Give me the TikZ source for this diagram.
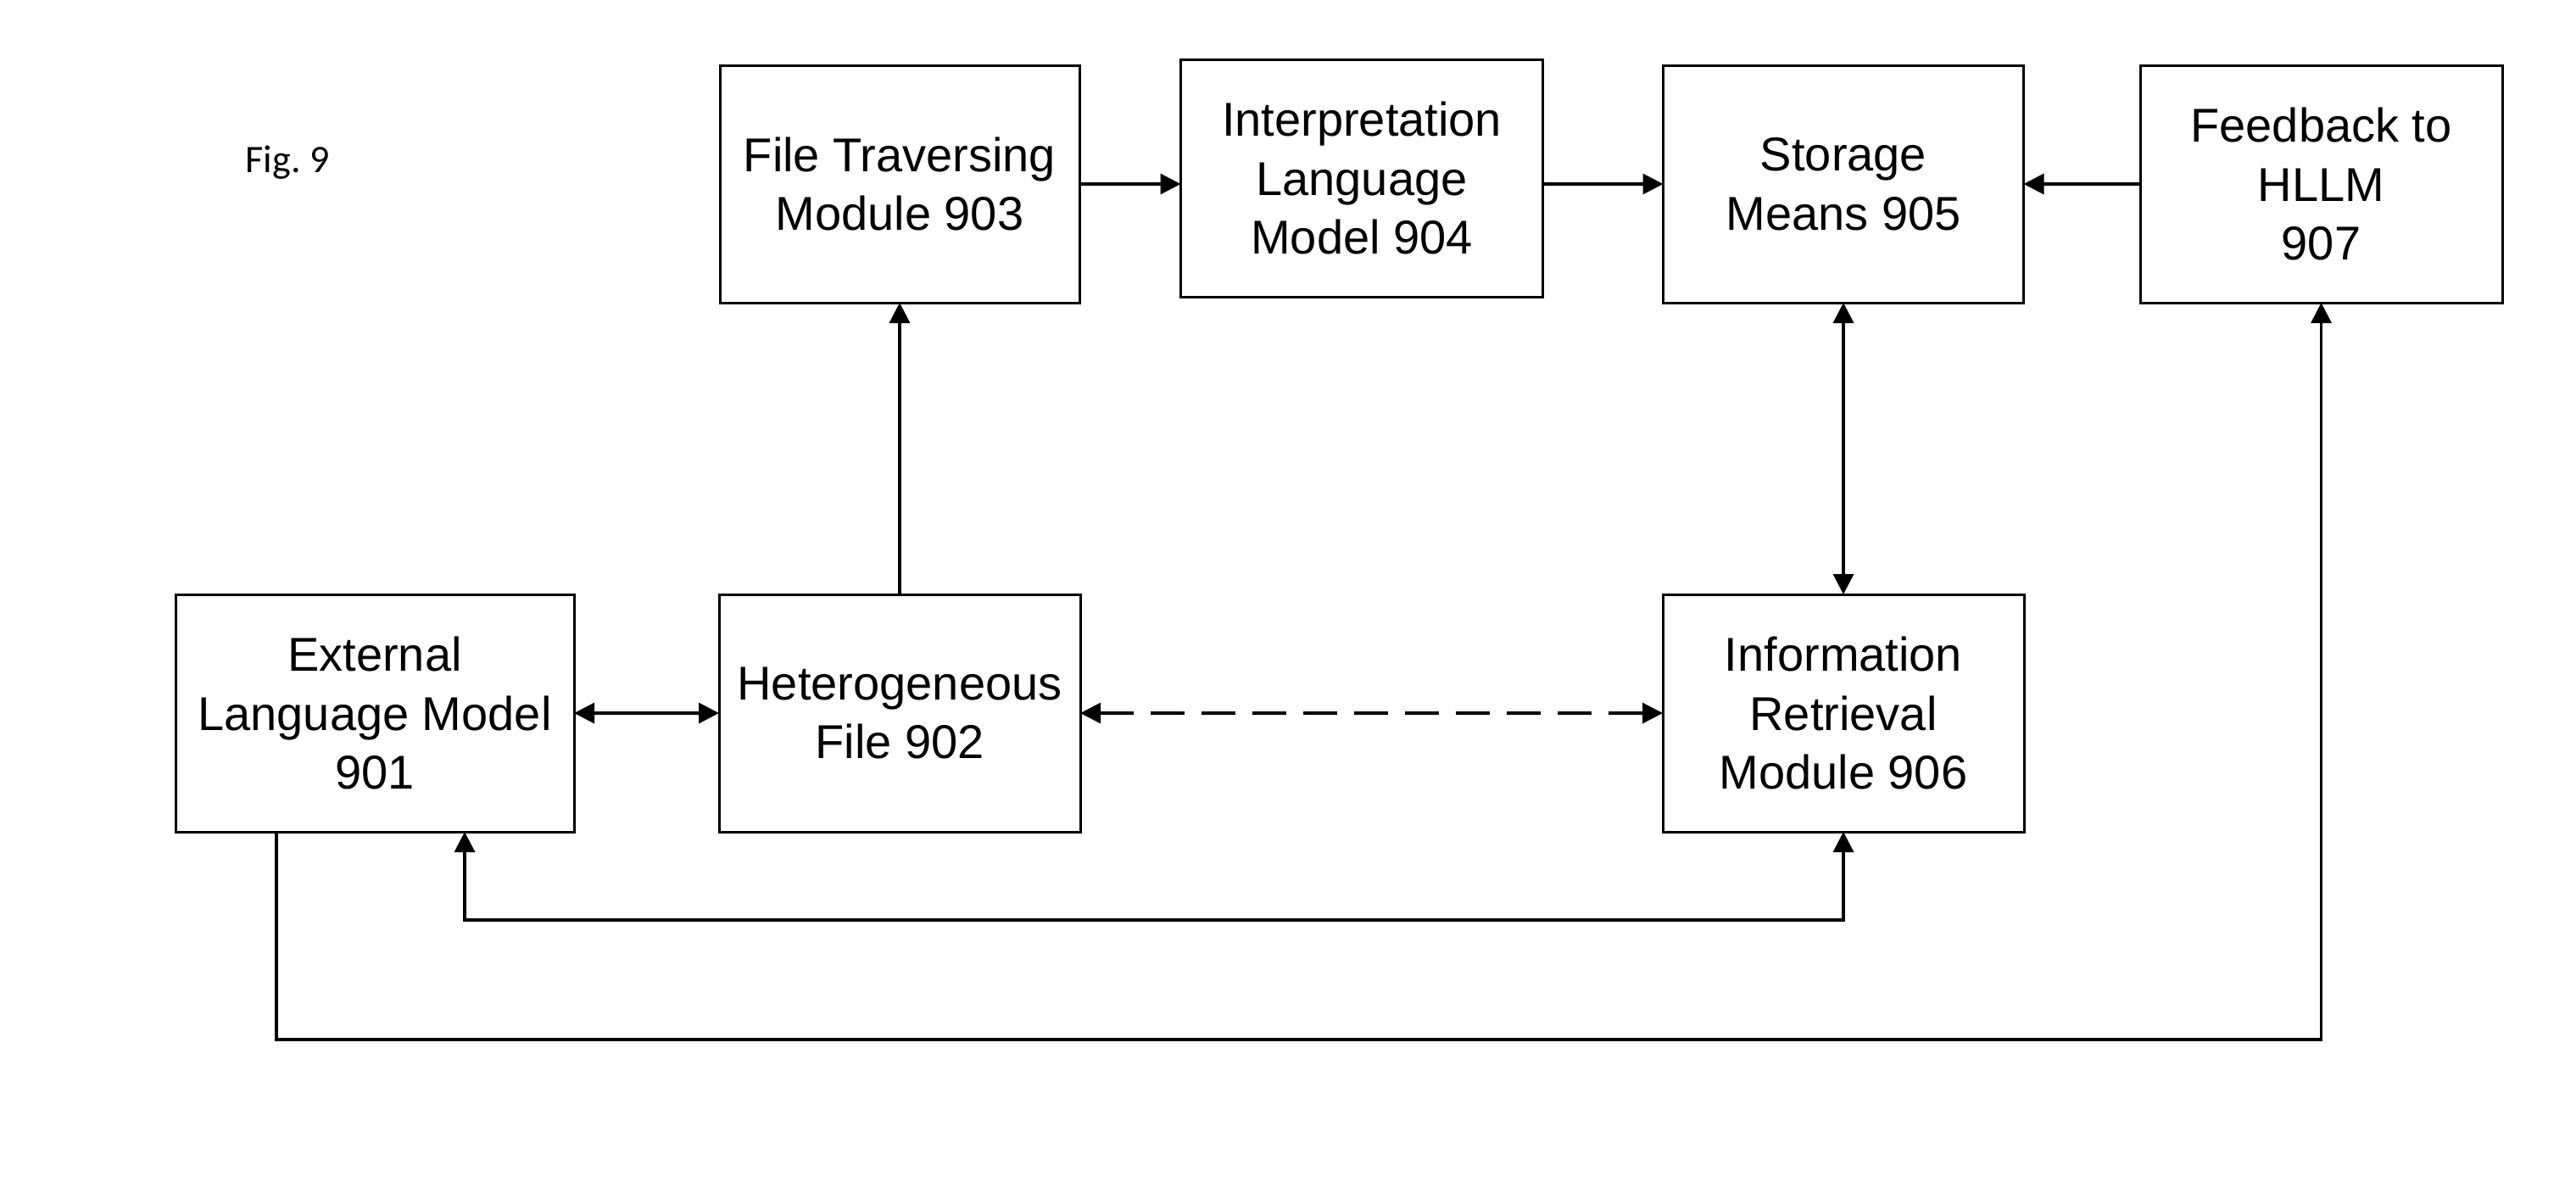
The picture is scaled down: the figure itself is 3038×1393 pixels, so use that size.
\documentclass[tikz,border=0pt]{standalone}
\usepackage{fontspec}
\setmainfont{Liberation Sans}
\newfontfamily\figfont{Carlito}
\usetikzlibrary{arrows.meta}
\begin{document}
\begin{tikzpicture}[x=0.25pt,y=-0.25pt,
  blk/.style={draw, line width=0.75pt, rectangle, align=center, inner sep=0pt, outer sep=0pt,
    font=\fontsize{14pt}{17.4pt}\selectfont},
  conn/.style={line width=0.8pt, -{Triangle[length=6pt,width=6pt]}},
  dconn/.style={line width=0.8pt, {Triangle[length=6pt,width=6pt]}-{Triangle[length=6pt,width=6pt]}},
  dsh/.style={dash pattern=on 10pt off 5pt}
]
\useasboundingbox (0,0) rectangle (3038,1393);
\node[anchor=base west, inner sep=0pt, font=\figfont\fontsize{11.5pt}{14pt}\selectfont] (fig) at (289,203.5) {Fig.~9};

\node[blk, minimum width=106pt, minimum height=70pt] (n903) at (1061,217) {File Traversing\\Module 903};
\node[blk, minimum width=106.75pt, minimum height=70pt] (n904) at (1606,210) {Interpretation\\Language\\Model 904};
\node[blk, minimum width=106.25pt, minimum height=70pt] (n905) at (2174,217) {Storage\\Means 905};
\node[blk, minimum width=106.75pt, minimum height=70pt] (n907) at (2737.5,217) {Feedback to\\HLLM\\907};
\node[blk, minimum width=117.5pt, minimum height=70pt] (n901) at (442,841) {External\\Language Model\\901};
\node[blk, minimum width=106.5pt, minimum height=70pt] (n902) at (1061,841) {Heterogeneous\\File 902};
\node[blk, minimum width=106.5pt, minimum height=70pt] (n906) at (2174,841) {Information\\Retrieval\\Module 906};

\coordinate (a) at (548,1085);
\coordinate (b) at (326,1226);

\draw[conn] (n903.east) -- (n903.east -| n904.west);
\draw[conn] (n905.west -| n904.east) -- (n905.west);
\draw[conn] (n907.west) -- (n905.east);
\draw[conn] (n902.north) -- (n903.south);
\draw[dconn] (n905.south) -- (n906.north);
\draw[dconn] (n901.east) -- (n902.west);
\draw[dconn, dsh] (n902.east) -- (n906.west);
\draw[dconn] (a |- n901.south) -- (a) -| (n906.south);
\draw[conn] (b |- n901.south) -- (b) -| (n907.south);
\end{tikzpicture}
\end{document}
